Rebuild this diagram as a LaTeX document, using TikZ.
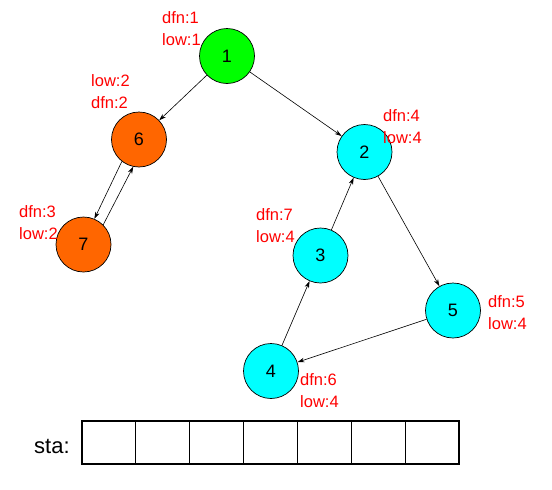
\documentclass[tikz,border=0pt]{standalone}
\usepackage{fontspec}
\setmainfont{Liberation Sans}
\usetikzlibrary{arrows.meta}

\definecolor{vgreen}{RGB}{0,255,0}
\definecolor{vorange}{RGB}{255,102,0}
\definecolor{vcyan}{RGB}{0,255,255}

\begin{document}
\begin{tikzpicture}[
  x=1pt, y=-1pt,
  vertex/.style={draw, circle, line width=0.7pt, minimum size=55pt, inner sep=0pt, font=\fontsize{18}{20}\selectfont},
  info/.style={text=red, anchor=west, align=left, inner sep=0pt, font=\fontsize{16.5}{22}\selectfont},
  edge/.style={-{Stealth[length=7pt,width=4.5pt]}, line width=0.6pt},
  cell/.style={draw, line width=0.8pt, minimum width=53.86pt, minimum height=43pt, inner sep=0pt, outer sep=0pt}
]
\useasboundingbox (0,0) rectangle (552,490);

% vertices
\node[vertex, fill=vgreen]  (n1) at (227,56)      {1};
\node[vertex, fill=vorange] (n6) at (139,139.5)   {6};
\node[vertex, fill=vcyan]   (n2) at (364.5,152)   {2};
\node[vertex, fill=vorange] (n7) at (83.5,244.5)  {7};
\node[vertex, fill=vcyan]   (n3) at (320.5,255.5) {3};
\node[vertex, fill=vcyan]   (n5) at (453,310.5)   {5};
\node[vertex, fill=vcyan]   (n4) at (271,371)     {4};

% dfn / low values
\node[info] (l1) at (162,29)  {dfn:1\\low:1};
\node[info] (l6) at (91,92)   {low:2\\dfn:2};
\node[info] (l2) at (383,127) {dfn:4\\low:4};
\node[info] (l7) at (19,223)  {dfn:3\\low:2};
\node[info] (l3) at (256,226) {dfn:7\\low:4};
\node[info] (l5) at (488,313) {dfn:5\\low:4};
\node[info] (l4) at (300,391) {dfn:6\\low:4};

% edges
\draw[edge] (n1) -- (n6);
\draw[edge] (n1) -- (n2);
\draw[edge] (n6.232) -- (n7.67);
\draw[edge] (n7.45) -- (n6.258);
\draw[edge] (n2) -- (n5);
\draw[edge] (n5) -- (n4);
\draw[edge] (n4) -- (n3);
\draw[edge] (n3) -- (n2);

% stack
\node[anchor=west, inner sep=0pt, font=\fontsize{22}{24}\selectfont] (sta) at (34,446) {sta:};
\foreach \i in {1,...,7}
  \node[cell] (c\i) at ({82+53.86*(\i-0.5)},442.5) {};
\draw[line width=1.6pt] (c1.north west) rectangle (c7.south east);
\end{tikzpicture}
\end{document}
